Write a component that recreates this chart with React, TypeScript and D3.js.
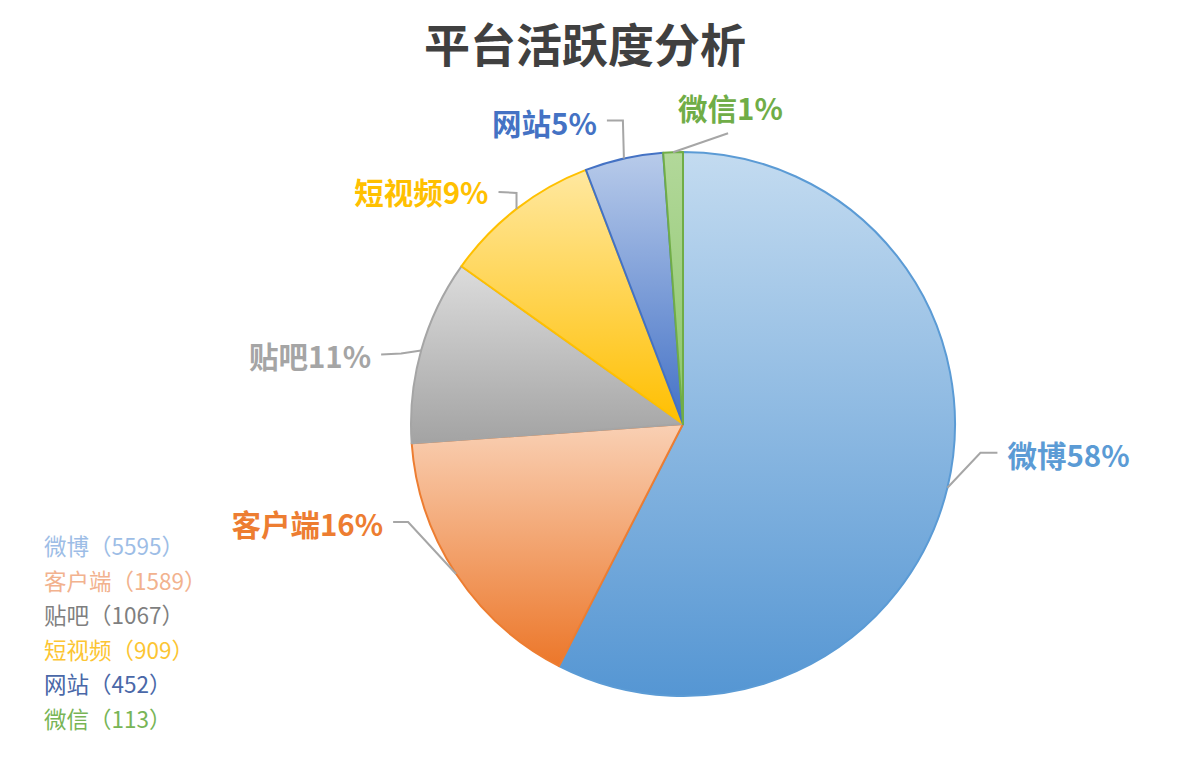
import { useEffect, useRef } from "react";
import * as d3 from "d3";

// 数据
const categories = ["微博", "客户端", "贴吧", "短视频", "网站", "微信"];
const values = [5595, 1589, 1067, 909, 452, 113];

// 颜色：渐变上端、下端、描边、标签、图例
const topColors = ["#c3dbf0", "#f9d0b4", "#dcdcdc", "#ffe8a0", "#b8cbea", "#b2d89a"];
const bottomColors = ["#5596d3", "#ec772a", "#a3a3a3", "#ffbf00", "#4371c6", "#8cc66a"];
const strokeColors = ["#5b9bd5", "#ed7d31", "#a5a5a5", "#ffc000", "#4472c4", "#70ad47"];
const labelColors = ["#5b9bd5", "#ed7d31", "#a5a5a5", "#ffc000", "#4472c4", "#70ad47"];
const legendColors = ["#9dbde6", "#f2b28e", "#7f7f7f", "#fcc533", "#4a68a8", "#78b556"];

// 标签引导线布局（相对于扇区外缘点的偏移）
const labelLayout = [
  { elbow: [33, -35], end: [50, -35], text: [60, -34], anchor: "start" },
  { elbow: [-48, -52], end: [-63, -52], text: [-73, -51], anchor: "end" },
  { elbow: [-20, 3], end: [-40, 4], text: [-50, 5], anchor: "end" },
  { elbow: [0, -16], end: [-18, -17], text: [-28, -18], anchor: "end" },
  { elbow: [-1, -38], end: [-17, -38], text: [-27, -37], anchor: "end" },
  { elbow: [55, -19], end: [55, -19], text: [5, -45], anchor: "start" },
];

const FONT = '"Noto Sans CJK SC", "Noto Sans", sans-serif';

export default function App() {
  const svgRef = useRef<SVGSVGElement>(null);

  useEffect(() => {
    if (!svgRef.current) return;
    const width = 1200;
    const height = 760;
    const cx = 683;
    const cy = 424;
    const r = 272;

    const svg = d3.select(svgRef.current);
    svg.selectAll("*").remove();
    svg.attr("viewBox", `0 0 ${width} ${height}`);

    const total = d3.sum(values);
    const data = categories.map((c, i) => ({ name: c, value: values[i], i }));

    // 渐变定义
    const defs = svg.append("defs");
    data.forEach((d) => {
      const g = defs
        .append("linearGradient")
        .attr("id", `grad-${d.i}`)
        .attr("x1", 0)
        .attr("y1", 0)
        .attr("x2", 0)
        .attr("y2", 1);
      g.append("stop").attr("offset", "0%").attr("stop-color", topColors[d.i]);
      g.append("stop").attr("offset", "100%").attr("stop-color", bottomColors[d.i]);
    });

    // 标题
    svg
      .append("text")
      .attr("x", 585)
      .attr("y", 42)
      .attr("text-anchor", "middle")
      .attr("dominant-baseline", "central")
      .attr("font-family", FONT)
      .attr("font-weight", 700)
      .attr("font-size", 46)
      .attr("fill", "#404040")
      .text("平台活跃度分析");

    const pie = d3
      .pie<(typeof data)[number]>()
      .value((d) => d.value)
      .sort(null)
      .startAngle(0)
      .endAngle(2 * Math.PI);
    const arcs = pie(data);

    const arc = d3.arc<d3.PieArcDatum<(typeof data)[number]>>().innerRadius(0).outerRadius(r);

    const g = svg.append("g").attr("transform", `translate(${cx},${cy})`);

    g.selectAll("path.slice")
      .data(arcs)
      .join("path")
      .attr("class", "slice")
      .attr("d", arc)
      .attr("fill", (d) => `url(#grad-${d.data.i})`)
      .attr("stroke", (d) => strokeColors[d.data.i])
      .attr("stroke-width", 2)
      .attr("stroke-linejoin", "round");

    // 引导线与标签
    arcs.forEach((a) => {
      const mid = (a.startAngle + a.endAngle) / 2;
      const ex = r * Math.sin(mid);
      const ey = -r * Math.cos(mid);
      const L = labelLayout[a.data.i];
      const pts: [number, number][] = [
        [ex, ey],
        [ex + L.elbow[0], ey + L.elbow[1]],
        [ex + L.end[0], ey + L.end[1]],
      ];
      g.append("path")
        .attr("d", d3.line()(pts))
        .attr("fill", "none")
        .attr("stroke", "#a6a6a6")
        .attr("stroke-width", 2);

      const pct = Math.round((a.data.value / total) * 100);
      g.append("text")
        .attr("x", ex + L.text[0])
        .attr("y", ey + L.text[1])
        .attr("text-anchor", L.anchor)
        .attr("dominant-baseline", "central")
        .attr("font-family", FONT)
        .attr("font-weight", 700)
        .attr("font-size", 29.5)
        .attr("fill", labelColors[a.data.i])
        .attr("stroke", "#ffffff")
        .attr("stroke-width", 4)
        .attr("stroke-linejoin", "round")
        .attr("paint-order", "stroke")
        .text(`${a.data.name}${pct}%`);
    });

    // 图例
    const legend = svg.append("g").attr("transform", "translate(44,545)");
    legend
      .selectAll("text")
      .data(data)
      .join("text")
      .attr("x", 0)
      .attr("y", (d) => d.i * 34.6)
      .attr("dominant-baseline", "central")
      .attr("font-family", FONT)
      .attr("font-size", 22.5)
      .attr("fill", (d) => legendColors[d.i])
      .text((d) => `${d.name}（${d.value}）`);
  }, []);

  return (
    <div style={{ width: 1200, height: 760, margin: -8, background: "#fff" }}>
      <svg ref={svgRef} width={1200} height={760} style={{ display: "block" }} />
    </div>
  );
}
